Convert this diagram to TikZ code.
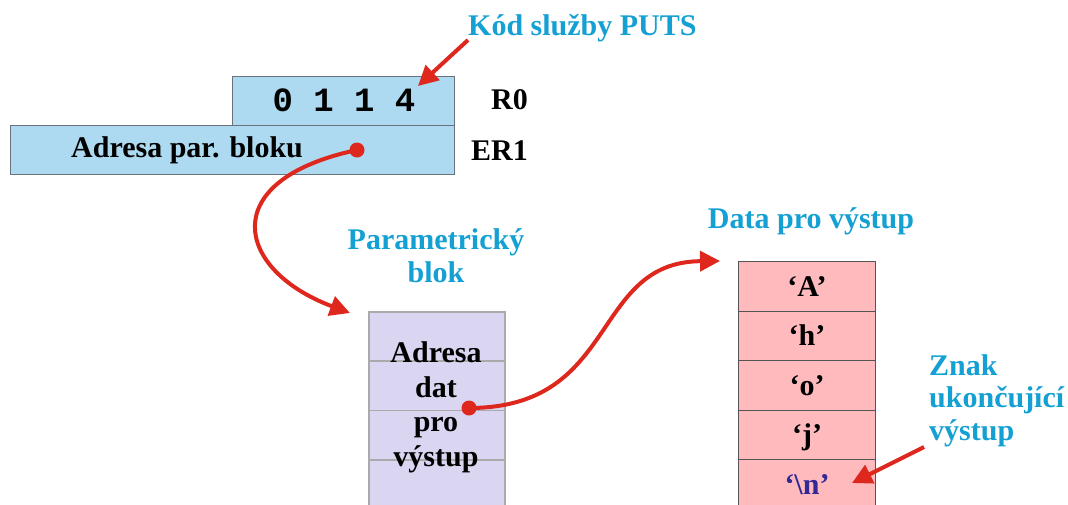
\documentclass[tikz,border=0pt]{standalone}
\usepackage{fontspec}
\setmainfont{Liberation Serif}
\newfontfamily\codefont{Liberation Mono}
\usetikzlibrary{arrows.meta}

\definecolor{regfill}{RGB}{173,218,240}
\definecolor{regline}{RGB}{105,115,125}
\definecolor{parfill}{RGB}{218,214,242}
\definecolor{parline}{RGB}{170,170,170}
\definecolor{datfill}{RGB}{255,186,190}
\definecolor{datline}{RGB}{85,85,85}
\definecolor{labelcyan}{RGB}{20,160,210}
\definecolor{linkred}{RGB}{222,40,30}
\definecolor{eolblue}{RGB}{50,40,150}

\tikzset{
  txt/.style={inner sep=0pt, font=\fontsize{30}{34.5}\selectfont\bfseries},
  cyanlbl/.style={txt, text=labelcyan, font=\fontsize{30}{32.5}\selectfont\bfseries},
  regbox/.style={draw=regline, line width=1pt, fill=regfill, inner sep=0pt, anchor=north west},
  parcell/.style={draw=parline, line width=1.6pt, fill=parfill, inner sep=0pt,
    minimum width=136pt, minimum height=49.3pt, anchor=north west},
  datcell/.style={draw=datline, line width=1pt, fill=datfill, inner sep=0pt,
    minimum width=137pt, minimum height=49.5pt, anchor=north west,
    font=\fontsize{30}{34.5}\selectfont\bfseries, text height=22pt, text depth=2pt},
  dot/.style={circle, fill=linkred, inner sep=0pt, minimum size=15pt},
  link/.style={draw=linkred, line width=4pt, -{Triangle[length=20pt,width=20pt]}},
}

\begin{document}
\begin{tikzpicture}[x=1pt,y=-1pt]
\useasboundingbox (0,0) rectangle (1068,504);
\clip (0,0) rectangle (1068,504);

% registers
\node[regbox, minimum width=222pt, minimum height=49pt] (r0) at (232,76) {};
\node[regbox, minimum width=444pt, minimum height=49pt] (er1) at (10,125) {};
\node[inner sep=0pt, anchor=base, font=\fontsize{34}{34}\selectfont\codefont\bfseries]
  (code) at (344,111) {0 1 1 4};
\node[txt, anchor=base west] (er1txt) at (71,157) {Adresa par. bloku};
\node[txt, anchor=base east] (r0name) at (528,109) {R0};
\node[txt, anchor=base east] (er1name) at (528,160) {ER1};

% service code label
\node[cyanlbl, anchor=base west] (svc) at (468,35) {Kód služby PUTS};
\coordinate (svcfrom) at (468,40);
\coordinate (svcto) at (418,86);
\draw[link] (svcfrom) -- (svcto);

% parameter block (multi-line nodes are placed by their last baseline)
\node[cyanlbl, anchor=base, align=center] (partitle) at (436,282) {Parametrický\\blok};
\node[parcell] (pc1) at (368,311) {};
\node[parcell] (pc2) at (368,360.3) {};
\node[parcell] (pc3) at (368,409.6) {};
\node[parcell] (pc4) at (368,458.9) {};
\node[txt, anchor=base, align=center] (ptext) at (436,466) {Adresa\\dat\\pro\\výstup};

% output data
\node[cyanlbl, anchor=base] (dattitle) at (811,228) {Data pro výstup};
\node[datcell] (dc1) at (738,261) {‘A’};
\node[datcell] (dc2) at (738,310.5) {‘h’};
\node[datcell] (dc3) at (738,360) {‘o’};
\node[datcell] (dc4) at (738,409.5) {‘j’};
\node[datcell, text=eolblue] (dc5) at (738,459) {‘\textbackslash n’};

% terminator label
\node[cyanlbl, anchor=base west, align=left] (eol) at (929,440) {Znak\\ukončující\\výstup};
\coordinate (eolfrom) at (924,447);
\coordinate (eolto) at (852,483);
\draw[link] (eolfrom) -- (eolto);

% pointers
\node[dot] (d1) at (357,150) {};
\node[dot] (d2) at (469,408) {};
\coordinate (parin) at (350,313);
\coordinate (datin) at (720,261);
\draw[link] (d1.center) .. controls (215,180) and (235,270) .. (parin);
\draw[link] (d2.center) .. controls (620,408) and (590,262) .. (datin);
\end{tikzpicture}
\end{document}
